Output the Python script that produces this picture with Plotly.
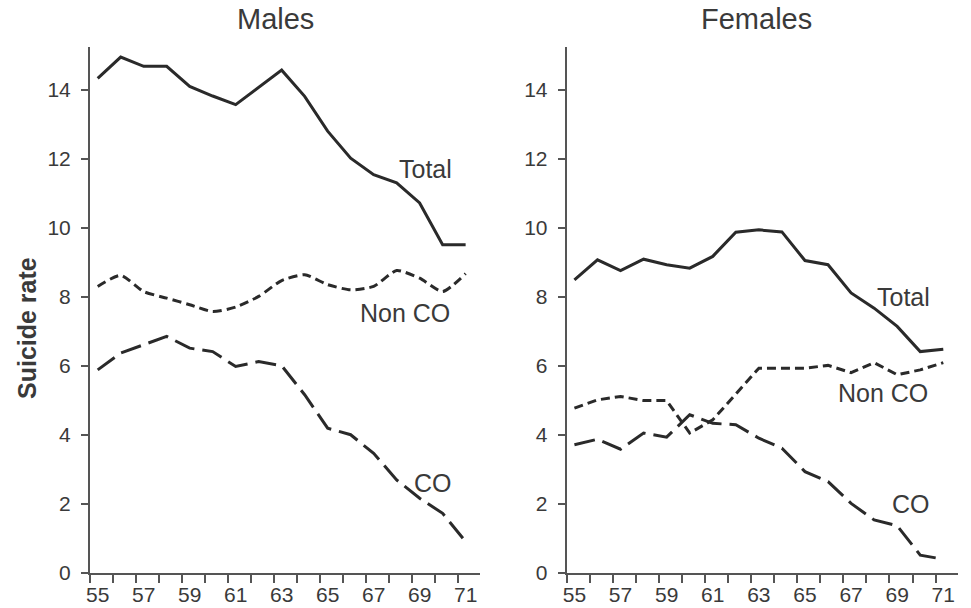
import plotly.graph_objects as go
from plotly.subplots import make_subplots

years = list(range(55, 72))
year_labels = ["55", "57", "59", "61", "63", "65", "67", "69", "71"]
year_ticks = [55, 57, 59, 61, 63, 65, 67, 69, 71]
y_ticks = [0, 2, 4, 6, 8, 10, 12, 14]

male_total = [14.33, 14.95, 14.68, 14.68, 14.10, 13.82, 13.57, 14.06, 14.57, 13.81, 12.80, 12.02, 11.54, 11.30, 10.72, 9.51, 9.51]
male_nonco = [8.30, 8.62, 8.15, 7.96, 7.77, 7.57, 7.70, 8.01, 8.47, 8.64, 8.35, 8.20, 8.30, 8.76, 8.54, 8.15, 8.67]
male_co = [5.88, 6.37, 6.61, 6.85, 6.51, 6.41, 5.98, 6.12, 6.00, 5.16, 4.19, 4.00, 3.46, 2.69, 2.16, 1.72, 0.90]

female_total = [8.49, 9.07, 8.76, 9.09, 8.93, 8.83, 9.17, 9.87, 9.94, 9.88, 9.05, 8.93, 8.11, 7.67, 7.14, 6.41, 6.48]
female_nonco = [4.77, 5.01, 5.11, 4.99, 4.99, 4.05, 4.43, 5.17, 5.93, 5.93, 5.93, 6.01, 5.80, 6.09, 5.74, 5.88, 6.09]
female_co = [3.71, 3.87, 3.58, 4.05, 3.93, 4.58, 4.33, 4.29, 3.90, 3.61, 2.93, 2.64, 2.01, 1.53, 1.36, 0.51, 0.39]

panel_titles = ["Males", "Females"]
series_names = ["Total", "Non CO", "CO"]

LINE = "#2a2a2a"
AXIS = "#555555"
TEXT = "#3a3a3a"
FONT = "Liberation Sans, Arial, sans-serif"

fig = make_subplots(rows=1, cols=2)

styles = {
    "Total": dict(dash="solid", shape="linear"),
    "Non CO": dict(dash="9px,5px", shape="spline"),
    "CO": dict(dash="21px,8px", shape="linear"),
}

panels = [
    (1, [male_total, male_nonco, male_co]),
    (2, [female_total, female_nonco, female_co]),
]
for col, series in panels:
    for name, vals in zip(series_names, series):
        st = styles[name]
        shape = st["shape"] if col == 1 else "linear"
        fig.add_trace(
            go.Scatter(
                x=years, y=vals, mode="lines", name=name,
                line=dict(color=LINE, width=3, dash=st["dash"], shape=shape,
                          smoothing=0.6),
                showlegend=False, hoverinfo="skip",
            ),
            row=1, col=col,
        )

xr = [54.665, 71.625]
yr = [0, 15.25]
for col in (1, 2):
    fig.update_xaxes(
        range=xr, tickmode="array", tickvals=year_ticks, ticktext=year_labels,
        ticks="", showline=True, linecolor=AXIS, linewidth=2, showgrid=False,
        zeroline=False, tickfont=dict(size=21, color=TEXT, family=FONT),
        ticklabelstandoff=2, automargin=False,
        minor=dict(ticks="outside", ticklen=8, tickwidth=2, tickcolor=AXIS,
                   tick0=54.665, dtick=1, showgrid=False),
        row=1, col=col,
    )
    fig.update_yaxes(
        range=yr, tickmode="array", tickvals=y_ticks,
        ticks="outside", ticklen=7, tickwidth=2, tickcolor=AXIS,
        showline=True, linecolor=AXIS, linewidth=2, showgrid=False,
        zeroline=False, tickfont=dict(size=21, color=TEXT, family=FONT),
        ticklabelstandoff=6, automargin=False,
        row=1, col=col,
    )

fig.update_layout(
    width=971, height=608,
    margin=dict(l=0, r=0, t=0, b=0),
    plot_bgcolor="white", paper_bgcolor="white",
    font=dict(family=FONT, color=TEXT),
    xaxis=dict(domain=[90 / 971, 480 / 971]),
    xaxis2=dict(domain=[566.7 / 971, 957.7 / 971]),
    yaxis=dict(domain=[(608 - 572.7) / 608, (608 - 46.7) / 608]),
    yaxis2=dict(domain=[(608 - 572.7) / 608, (608 - 46.7) / 608]),
)

# Panel titles
fig.add_annotation(text=panel_titles[0], x=275 / 971, y=1 - 19 / 608, xref="paper", yref="paper",
                   xanchor="center", yanchor="middle",
                   showarrow=False, font=dict(size=29, color=TEXT, family=FONT))
fig.add_annotation(text=panel_titles[1], x=756 / 971, y=1 - 19 / 608, xref="paper", yref="paper",
                   xanchor="center", yanchor="middle",
                   showarrow=False, font=dict(size=29, color=TEXT, family=FONT))
# Y axis title
fig.add_annotation(text="<b>Suicide rate</b>", x=27 / 971, y=1 - 328 / 608, xref="paper", yref="paper",
                   xanchor="center", yanchor="middle",
                   showarrow=False, textangle=-90, font=dict(size=25, color=TEXT, family=FONT))

# Series labels (data coordinates)
labels = [
    ("x", "y", "Total", 69.27, 11.69),
    ("x", "y", "Non CO", 68.36, 7.54),
    ("x", "y", "CO", 69.58, 2.60),
    ("x2", "y2", "Total", 69.29, 8.0),
    ("x2", "y2", "Non CO", 68.37, 5.21),
    ("x2", "y2", "CO", 69.62, 1.99),
]
for xref, yref, txt, xv, yv in labels:
    fig.add_annotation(text=txt, x=xv, y=yv, xref=xref, yref=yref, showarrow=False,
                       font=dict(size=25, color=TEXT, family=FONT))

fig.write_html("out.html", post_script="document.body.style.margin='0';",
               config={"displayModeBar": False})
